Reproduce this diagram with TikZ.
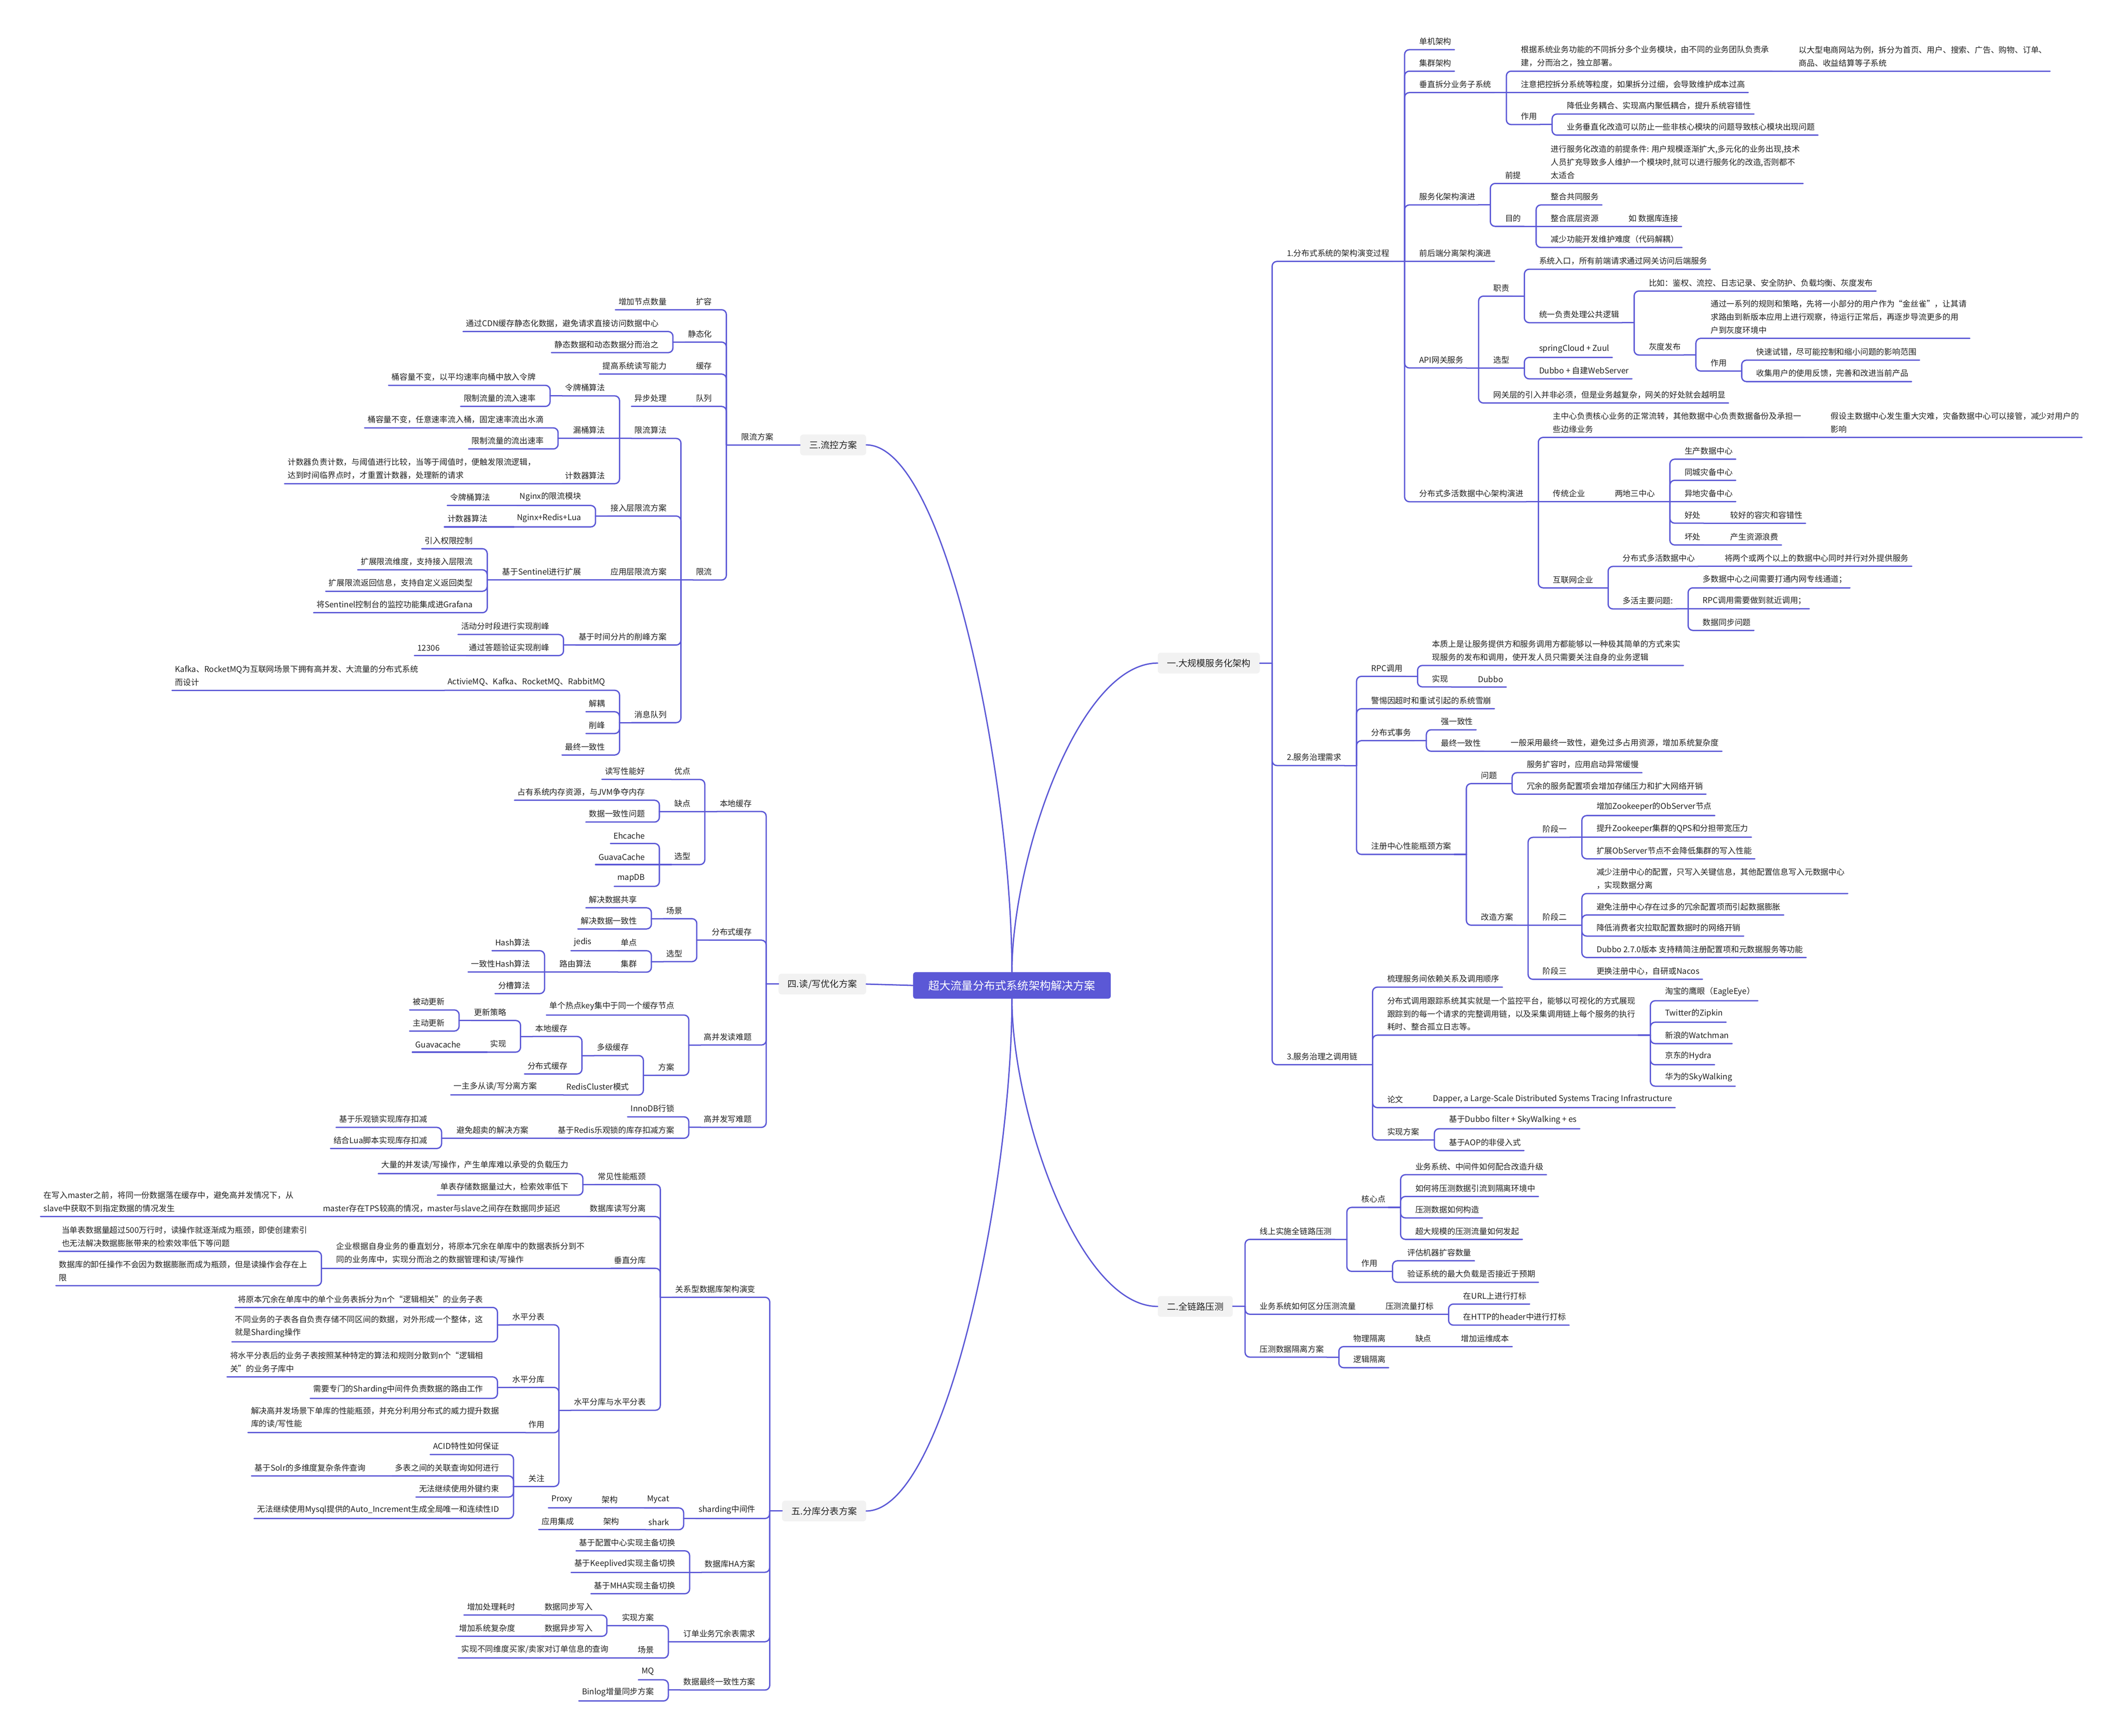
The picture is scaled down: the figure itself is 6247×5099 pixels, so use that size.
\documentclass[tikz,border=0pt]{standalone}
\usepackage{fontspec}
\setmainfont{Noto Sans CJK SC}
\usetikzlibrary{calc}
\definecolor{mc}{HTML}{5B58D6}
\definecolor{tc}{HTML}{222222}
\definecolor{bx}{HTML}{F2F2F2}
\tikzset{
 link/.style={draw=mc,line width=3.8pt,line cap=round},
 txt/.style={inner sep=0pt,align=left,text=tc,font=\fontsize{23.5}{38.5}\selectfont},
 mbox/.style={fill=bx,rounded corners=9pt,inner xsep=27pt,inner ysep=0pt,minimum height=61pt,text=tc,font=\fontsize{26.5}{30}\selectfont},
 cbox/.style={fill=mc,rounded corners=8pt,inner xsep=45pt,inner ysep=0pt,minimum height=78pt,text=white,font=\fontsize{32.7}{36}\selectfont},
}
% right side, branch child: name, parent, underline y, text
\newcommand\RB[4]{%
 \path let \p1=(#2-t) in node[txt,anchor=south west] (#1) at (\x1+43,-#3+13) {#4};
 \path let \p1=(#1.east) in coordinate (#1-ue) at (\x1+9,-#3) coordinate (#1-t) at (\x1+44,-#3);
 \draw[link] (#2-ue) -- (#2-t);
 \draw[link,rounded corners=14pt] (#2-t) |- (#1-ue);}
% right side, straight child: name, parent, text
\newcommand\RS[3]{%
 \path let \p1=(#2-t) in node[txt,anchor=south west] (#1) at (\x1+43,\y1+13) {#3};
 \path let \p1=(#1.east), \p2=(#2-t) in coordinate (#1-ue) at (\x1+9,\y2) coordinate (#1-t) at (\x1+44,\y2);
 \draw[link] (#2-ue) -- (#1-ue);}
% left side
\newcommand\LB[4]{%
 \path let \p1=(#2-t) in node[txt,anchor=south east] (#1) at (\x1-42,-#3+13) {#4};
 \path let \p1=(#1.west) in coordinate (#1-ue) at (\x1-9,-#3) coordinate (#1-t) at (\x1-44,-#3);
 \draw[link] (#2-ue) -- (#2-t);
 \draw[link,rounded corners=14pt] (#2-t) |- (#1-ue);}
\newcommand\LS[3]{%
 \path let \p1=(#2-t) in node[txt,anchor=south east] (#1) at (\x1-42,\y1+13) {#3};
 \path let \p1=(#1.west), \p2=(#2-t) in coordinate (#1-ue) at (\x1-9,\y2) coordinate (#1-t) at (\x1-44,\y2);
 \draw[link] (#2-ue) -- (#1-ue);}
\begin{document}
\begin{tikzpicture}[x=1pt,y=1pt]
\fill[white] (0,0) rectangle (6247,-5099);
\useasboundingbox (0,0) rectangle (6247,-5099);
% ---------- centre and main branches ----------
\node[cbox] (C) at (2972,-2895) {超大流量分布式系统架构解决方案};
\node[mbox,anchor=west] (B1) at (3400,-1948) {一.大规模服务化架构};
\node[mbox,anchor=west] (B2) at (3400,-3838) {二.全链路压测};
\node[mbox,anchor=east] (B3) at (2544,-1307) {三.流控方案};
\node[mbox,anchor=east] (B4) at (2544,-2891) {四.读/写优化方案};
\node[mbox,anchor=east] (B5) at (2544,-4439) {五.分库分表方案};
\draw[link] (C.north) .. controls ($(C.north)!0.36!(C.north|-B1.west)$) and ($(B1.west)!0.55!(B1.west-|C.north)$) .. (B1.west);
\draw[link] (C.south) .. controls ($(C.south)!0.36!(C.south|-B2.west)$) and ($(B2.west)!0.55!(B2.west-|C.south)$) .. (B2.west);
\draw[link] (C.north) .. controls ($(C.north)!0.36!(C.north|-B3.east)$) and ($(B3.east)!0.55!(B3.east-|C.north)$) .. (B3.east);
\draw[link] (C.south) .. controls ($(C.south)!0.36!(C.south|-B5.east)$) and ($(B5.east)!0.55!(B5.east-|C.south)$) .. (B5.east);
\draw[link] (C.west) -- (B4.east);
\foreach \b in {B1,B2}{\path let \p1=(\b.east) in coordinate (\b-ue) at (\p1) coordinate (\b-t) at (\x1+36,\y1);}
\foreach \b in {B3,B4,B5}{\path let \p1=(\b.west) in coordinate (\b-ue) at (\p1) coordinate (\b-t) at (\x1-36,\y1);}
% ---------- 一 ----------
\RB{n1}{B1}{768}{1.分布式系统的架构演变过程}
 \RB{a1}{n1}{146}{单机架构}
 \RB{a2}{n1}{209}{集群架构}
 \RB{a3}{n1}{272}{垂直拆分业务子系统}
  \RB{a31}{a3}{209}{根据系统业务功能的不同拆分多个业务模块，由不同的业务团队负责承\\建，分而治之，独立部署。}
   \RS{a311}{a31}{以大型电商网站为例，拆分为首页、用户、搜索、广告、购物、订单、\\商品、收益结算等子系统}
  \RS{a32}{a3}{注意把控拆分系统等粒度，如果拆分过细，会导致维护成本过高}
  \RB{a33}{a3}{366}{作用}
   \RB{a331}{a33}{335}{降低业务耦合、实现高内聚低耦合，提升系统容错性}
   \RB{a332}{a33}{397}{业务垂直化改造可以防止一些非核心模块的问题导致核心模块出现问题}
 \RB{a4}{n1}{602}{服务化架构演进}
  \RB{a41}{a4}{539}{前提}
   \RS{a411}{a41}{进行服务化改造的前提条件: 用户规模逐渐扩大,多元化的业务出现,技术\\人员扩充导致多人维护一个模块时,就可以进行服务化的改造,否则都不\\太适合}
  \RB{a42}{a4}{665}{目的}
   \RB{a421}{a42}{602}{整合共同服务}
   \RS{a422}{a42}{整合底层资源}
    \RS{a4221}{a422}{如 数据库连接}
   \RB{a423}{a42}{727}{减少功能开发维护难度（代码解耦）}
 \RS{a5}{n1}{前后端分离架构演进}
 \RB{a6}{n1}{1081}{API网关服务}
  \RB{a61}{a6}{870}{职责}
   \RB{a611}{a61}{791}{系统入口，所有前端请求通过网关访问后端服务}
   \RB{a612}{a61}{948}{统一负责处理公共逻辑}
    \RB{a6121}{a612}{855}{比如：鉴权、流控、日志记录、安全防护、负载均衡、灰度发布}
    \RB{a6122}{a612}{1043}{灰度发布}
     \RB{a61221}{a6122}{994}{通过一系列的规则和策略，先将一小部分的用户作为“金丝雀”，让其请\\求路由到新版本应用上进行观察，待运行正常后，再逐步导流更多的用\\户到灰度环境中}
     \RB{a61222}{a6122}{1090}{作用}
      \RB{a612221}{a61222}{1058}{快速试错，尽可能控制和缩小问题的影响范围}
      \RB{a612222}{a61222}{1121}{收集用户的使用反馈，完善和改进当前产品}
  \RS{a62}{a6}{选型}
   \RB{a621}{a62}{1050}{springCloud + Zuul}
   \RB{a622}{a62}{1113}{Dubbo + 自建WebServer}
  \RB{a63}{a6}{1184}{网关层的引入并非必须，但是业务越复杂，网关的好处就会越明显}
 \RB{a7}{n1}{1474}{分布式多活数据中心架构演进}
  \RB{a71}{a7}{1285}{主中心负责核心业务的正常流转，其他数据中心负责数据备份及承担一\\些边缘业务}
   \RS{a711}{a71}{假设主数据中心发生重大灾难，灾备数据中心可以接管，减少对用户的\\影响}
  \RS{a72}{a7}{传统企业}
   \RS{a721}{a72}{两地三中心}
    \RB{a7211}{a721}{1349}{生产数据中心}
    \RB{a7212}{a721}{1411}{同城灾备中心}
    \RS{a7213}{a721}{异地灾备中心}
    \RB{a7214}{a721}{1537}{好处}
     \RS{a72141}{a7214}{较好的容灾和容错性}
    \RB{a7215}{a721}{1601}{坏处}
     \RS{a72151}{a7215}{产生资源浪费}
  \RB{a73}{a7}{1727}{互联网企业}
   \RB{a731}{a73}{1664}{分布式多活数据中心}
    \RS{a7311}{a731}{将两个或两个以上的数据中心同时并行对外提供服务}
   \RB{a732}{a73}{1789}{多活主要问题:}
    \RB{a7321}{a732}{1727}{多数据中心之间需要打通内网专线通道；}
    \RS{a7322}{a732}{RPC调用需要做到就近调用；}
    \RB{a7323}{a732}{1852}{数据同步问题}
\RB{n2}{B1}{2249}{2.服务治理需求}
 \RB{b1}{n2}{1987}{RPC调用}
  \RB{b11}{b1}{1955}{本质上是让服务提供方和服务调用方都能够以一种极其简单的方式来实\\现服务的发布和调用，使开发人员只需要关注自身的业务逻辑}
  \RB{b12}{b1}{2018}{实现}
   \RS{b121}{b12}{Dubbo}
 \RB{b2}{n2}{2082}{警惕因超时和重试引起的系统雪崩}
 \RB{b3}{n2}{2176}{分布式事务}
  \RB{b31}{b3}{2144}{强一致性}
  \RB{b32}{b3}{2207}{最终一致性}
   \RS{b321}{b32}{一般采用最终一致性，避免过多占用资源，增加系统复杂度}
 \RB{b4}{n2}{2510}{注册中心性能瓶颈方案}
  \RB{b41}{b4}{2302}{问题}
   \RB{b411}{b41}{2270}{服务扩容时，应用启动异常缓慢}
   \RB{b412}{b41}{2333}{冗余的服务配置项会增加存储压力和扩大网络开销}
  \RB{b42}{b4}{2718}{改造方案}
   \RB{b421}{b42}{2460}{阶段一}
    \RB{b4211}{b421}{2396}{增加Zookeeper的ObServer节点}
    \RS{b4212}{b421}{提升Zookeeper集群的QPS和分担带宽压力}
    \RB{b4213}{b421}{2523}{扩展ObServer节点不会降低集群的写入性能}
   \RS{b422}{b42}{阶段二}
    \RB{b4221}{b422}{2625}{减少注册中心的配置，只写入关键信息，其他配置信息写入元数据中心\\，实现数据分离}
    \RB{b4222}{b422}{2688}{避免注册中心存在过多的冗余配置项而引起数据膨胀}
    \RB{b4223}{b422}{2750}{降低消费者灾拉取配置数据时的网络开销}
    \RB{b4224}{b422}{2813}{Dubbo 2.7.0版本 支持精简注册配置项和元数据服务等功能}
   \RB{b423}{b42}{2877}{阶段三}
    \RS{b4231}{b423}{更换注册中心，自研或Nacos}
\RB{n3}{B1}{3128}{3.服务治理之调用链}
 \RB{c1}{n3}{2900}{梳理服务间依赖关系及调用顺序}
 \RB{c2}{n3}{3041}{分布式调用跟踪系统其实就是一个监控平台，能够以可视化的方式展现\\跟踪到的每一个请求的完整调用链，以及采集调用链上每个服务的执行\\耗时、整合孤立日志等。}
  \RB{c21}{c2}{2940}{淘宝的鹰眼（EagleEye）}
  \RB{c22}{c2}{3003}{Twitter的Zipkin}
  \RB{c23}{c2}{3066}{新浪的Watchman}
  \RB{c24}{c2}{3128}{京东的Hydra}
  \RB{c25}{c2}{3191}{华为的SkyWalking}
 \RB{c3}{n3}{3254}{论文}
  \RS{c31}{c3}{Dapper, a Large-Scale Distributed Systems Tracing Infrastructure}
 \RB{c4}{n3}{3349}{实现方案}
  \RB{c41}{c4}{3316}{基于Dubbo filter + SkyWalking + es}
  \RB{c42}{c4}{3380}{基于AOP的非侵入式}
% ---------- 二 ----------
\RB{d1}{B2}{3641}{线上实施全链路压测}
 \RB{d11}{d1}{3547}{核心点}
  \RB{d111}{d11}{3451}{业务系统、中间件如何配合改造升级}
  \RB{d112}{d11}{3515}{如何将压测数据引流到隔离环境中}
  \RB{d113}{d11}{3578}{压测数据如何构造}
  \RB{d114}{d11}{3641}{超大规模的压测流量如何发起}
 \RB{d12}{d1}{3735}{作用}
  \RB{d121}{d12}{3704}{评估机器扩容数量}
  \RB{d122}{d12}{3767}{验证系统的最大负载是否接近于预期}
\RB{d2}{B2}{3861}{业务系统如何区分压测流量}
 \RS{d21}{d2}{压测流量打标}
  \RB{d211}{d21}{3831}{在URL上进行打标}
  \RB{d212}{d21}{3893}{在HTTP的header中进行打标}
\RB{d3}{B2}{3987}{压测数据隔离方案}
 \RB{d31}{d3}{3956}{物理隔离}
  \RS{d311}{d31}{缺点}
   \RS{d3111}{d311}{增加运维成本}
 \RB{d32}{d3}{4018}{逻辑隔离}
% ---------- 三 ----------
\LS{e0}{B3}{限流方案}
 \LB{e1}{e0}{910}{扩容}
  \LS{e11}{e1}{增加节点数量}
 \LB{e2}{e0}{1005}{静态化}
  \LB{e21}{e2}{974}{通过CDN缓存静态化数据，避免请求直接访问数据中心}
  \LB{e22}{e2}{1036}{静态数据和动态数据分而治之}
 \LB{e3}{e0}{1099}{缓存}
  \LS{e31}{e3}{提高系统读写能力}
 \LB{e4}{e0}{1194}{队列}
  \LS{e41}{e4}{异步处理}
 \LB{e5}{e0}{1704}{限流}
  \LB{e51}{e5}{1288}{限流算法}
   \LB{e511}{e51}{1163}{令牌桶算法}
    \LB{e5111}{e511}{1132}{桶容量不变，以平均速率向桶中放入令牌}
    \LB{e5112}{e511}{1194}{限制流量的流入速率}
   \LS{e512}{e51}{漏桶算法}
    \LB{e5121}{e512}{1257}{桶容量不变，任意速率流入桶，固定速率流出水滴}
    \LB{e5122}{e512}{1319}{限制流量的流出速率}
   \LB{e513}{e51}{1421}{计数器算法}
    \LS{e5131}{e513}{计数器负责计数，与阈值进行比较，当等于阈值时，便触发限流逻辑，\\达到时间临界点时，才重置计数器，处理新的请求}
  \LB{e52}{e5}{1516}{接入层限流方案}
   \LB{e521}{e52}{1485}{Nginx的限流模块}
    \LS{e5211}{e521}{令牌桶算法}
   \LB{e522}{e52}{1548}{Nginx+Redis+Lua}
    \LS{e5221}{e522}{计数器算法}
  \LS{e53}{e5}{应用层限流方案}
   \LS{e531}{e53}{基于Sentinel进行扩展}
    \LB{e5311}{e531}{1612}{引入权限控制}
    \LB{e5312}{e531}{1674}{扩展限流维度，支持接入层限流}
    \LB{e5313}{e531}{1737}{扩展限流返回信息，支持自定义返回类型}
    \LB{e5314}{e531}{1800}{将Sentinel控制台的监控功能集成进Grafana}
  \LB{e54}{e5}{1895}{基于时间分片的削峰方案}
   \LB{e541}{e54}{1864}{活动分时段进行实现削峰}
   \LB{e542}{e54}{1926}{通过答题验证实现削峰}
    \LS{e5421}{e542}{12306}
  \LB{e55}{e5}{2123}{消息队列}
   \LB{e551}{e55}{2028}{ActivieMQ、Kafka、RocketMQ、RabbitMQ}
    \LS{e5511}{e551}{Kafka、RocketMQ为互联网场景下拥有高并发、大流量的分布式系统\\而设计}
   \LB{e552}{e55}{2091}{解耦}
   \LB{e553}{e55}{2155}{削峰}
   \LB{e554}{e55}{2218}{最终一致性}
% ---------- 四 ----------
\LB{f1}{B4}{2384}{本地缓存}
 \LB{f11}{f1}{2290}{优点}
  \LS{f111}{f11}{读写性能好}
 \LS{f12}{f1}{缺点}
  \LB{f121}{f12}{2351}{占有系统内存资源，与JVM争夺内存}
  \LB{f122}{f12}{2415}{数据一致性问题}
 \LB{f13}{f1}{2540}{选型}
  \LB{f131}{f13}{2478}{Ehcache}
  \LS{f132}{f13}{GuavaCache}
  \LB{f133}{f13}{2604}{mapDB}
\LB{f2}{B4}{2762}{分布式缓存}
 \LB{f21}{f2}{2699}{场景}
  \LB{f211}{f21}{2667}{解决数据共享}
  \LB{f212}{f21}{2729}{解决数据一致性}
 \LB{f22}{f2}{2825}{选型}
  \LB{f221}{f22}{2793}{单点}
   \LS{f2211}{f221}{jedis}
  \LB{f222}{f22}{2856}{集群}
   \LS{f2221}{f222}{路由算法}
    \LB{f22211}{f2221}{2793}{Hash算法}
    \LS{f22212}{f2221}{一致性Hash算法}
    \LB{f22213}{f2221}{2919}{分槽算法}
\LB{f3}{B4}{3070}{高并发读难题}
 \LB{f31}{f3}{2982}{单个热点key集中于同一个缓存节点}
 \LB{f32}{f3}{3159}{方案}
  \LB{f321}{f32}{3101}{多级缓存}
   \LB{f3211}{f321}{3045}{本地缓存}
    \LB{f32111}{f3211}{2998}{更新策略}
     \LB{f321111}{f32111}{2967}{被动更新}
     \LB{f321112}{f32111}{3029}{主动更新}
    \LB{f32112}{f3211}{3091}{实现}
     \LS{f321121}{f32112}{Guavacache}
   \LB{f3212}{f321}{3155}{分布式缓存}
  \LB{f322}{f32}{3217}{RedisCluster模式}
   \LS{f3221}{f322}{一主多从读/写分离方案}
\LB{f4}{B4}{3312}{高并发写难题}
 \LB{f41}{f4}{3281}{InnoDB行锁}
 \LB{f42}{f4}{3344}{基于Redis乐观锁的库存扣减方案}
  \LS{f421}{f42}{避免超卖的解决方案}
   \LB{f4211}{f421}{3312}{基于乐观锁实现库存扣减}
   \LB{f4212}{f421}{3374}{结合Lua脚本实现库存扣减}
% ---------- 五 ----------
\LB{g1}{B5}{3811}{关系型数据库架构演变}
 \LB{g11}{g1}{3480}{常见性能瓶颈}
  \LB{g111}{g11}{3448}{大量的并发读/写操作，产生单库难以承受的负载压力}
  \LB{g112}{g11}{3511}{单表存储数据量过大，检索效率低下}
 \LB{g12}{g1}{3574}{数据库读写分离}
  \LS{g121}{g12}{master存在TPS较高的情况，master与slave之间存在数据同步延迟}
   \LS{g1211}{g121}{在写入master之前，将同一份数据落在缓存中，避免高并发情况下，从\\slave中获取不到指定数据的情况发生}
 \LB{g13}{g1}{3726}{垂直分库}
  \LS{g131}{g13}{企业根据自身业务的垂直划分，将原本冗余在单库中的数据表拆分到不\\同的业务库中，实现分而治之的数据管理和读/写操作}
   \LB{g1311}{g131}{3676}{当单表数据量超过500万行时，读操作就逐渐成为瓶颈，即使创建索引\\也无法解决数据膨胀带来的检索效率低下等问题}
   \LB{g1312}{g131}{3777}{数据库的卸任操作不会因为数据膨胀而成为瓶颈，但是读操作会存在上\\限}
 \LB{g14}{g1}{4143}{水平分库与水平分表}
  \LB{g141}{g14}{3892}{水平分表}
   \LB{g1411}{g141}{3841}{将原本冗余在单库中的单个业务表拆分为n个“逻辑相关”的业务子表}
   \LB{g1412}{g141}{3942}{不同业务的子表各自负责存储不同区间的数据，对外形成一个整体，这\\就是Sharding操作}
  \LB{g142}{g14}{4076}{水平分库}
   \LB{g1421}{g142}{4045}{将水平分表后的业务子表按照某种特定的算法和规则分散到n个“逻辑相\\关”的业务子库中}
   \LB{g1422}{g142}{4108}{需要专门的Sharding中间件负责数据的路由工作}
  \LB{g143}{g14}{4209}{作用}
   \LS{g1431}{g143}{解决高并发场景下单库的性能瓶颈，并充分利用分布式的威力提升数据\\库的读/写性能}
  \LB{g144}{g14}{4367}{关注}
   \LB{g1441}{g144}{4273}{ACID特性如何保证}
   \LB{g1442}{g144}{4336}{多表之间的关联查询如何进行}
    \LS{g14421}{g1442}{基于Solr的多维度复杂条件查询}
   \LB{g1443}{g144}{4398}{无法继续使用外键约束}
   \LB{g1444}{g144}{4461}{无法继续使用Mysql提供的Auto\_Increment生成全局唯一和连续性ID}
\LB{g2}{B5}{4461}{sharding中间件}
 \LB{g21}{g2}{4430}{Mycat}
  \LS{g211}{g21}{架构}
   \LS{g2111}{g211}{Proxy}
 \LB{g22}{g2}{4494}{shark}
  \LS{g221}{g22}{架构}
   \LS{g2211}{g221}{应用集成}
\LB{g3}{B5}{4619}{数据库HA方案}
 \LB{g31}{g3}{4556}{基于配置中心实现主备切换}
 \LS{g32}{g3}{基于Keeplived实现主备切换}
 \LB{g33}{g3}{4682}{基于MHA实现主备切换}
\LB{g4}{B5}{4823}{订单业务冗余表需求}
 \LB{g41}{g4}{4776}{实现方案}
  \LB{g411}{g41}{4745}{数据同步写入}
   \LS{g4111}{g411}{增加处理耗时}
  \LB{g412}{g41}{4807}{数据异步写入}
   \LS{g4121}{g412}{增加系统复杂度}
 \LB{g42}{g4}{4871}{场景}
  \LS{g421}{g42}{实现不同维度买家/卖家对订单信息的查询}
\LB{g5}{B5}{4965}{数据最终一致性方案}
 \LB{g51}{g5}{4935}{MQ}
 \LB{g52}{g5}{4997}{Binlog增量同步方案}
\end{tikzpicture}
\end{document}
